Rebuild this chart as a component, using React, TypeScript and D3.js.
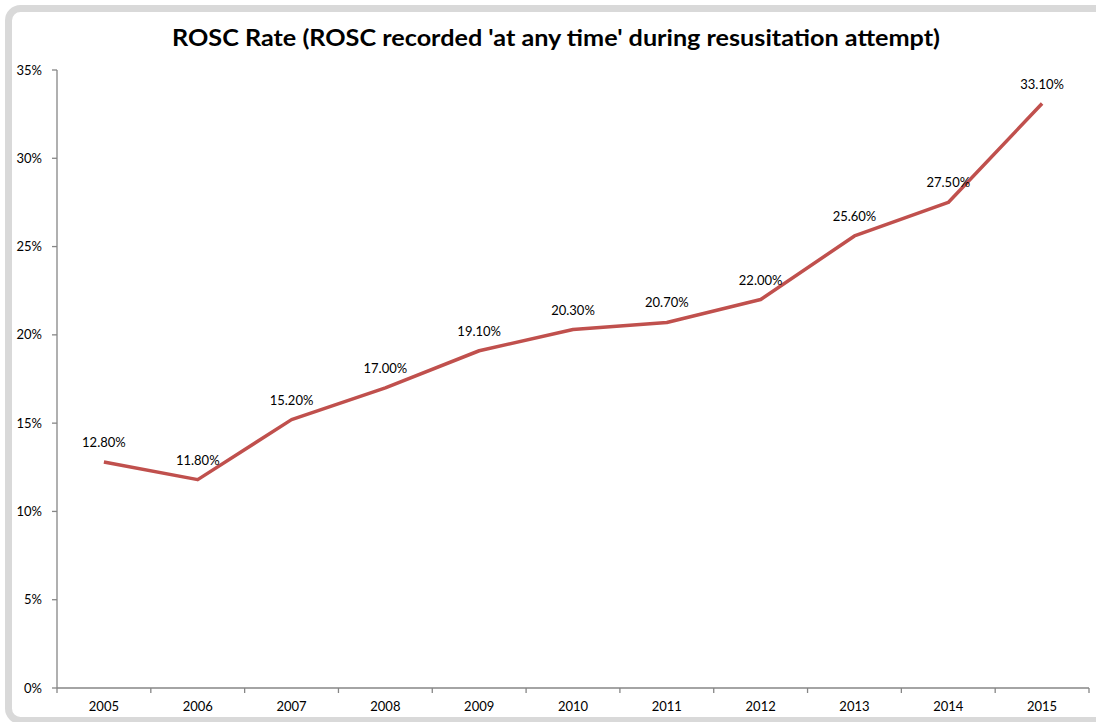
import React, { useEffect } from "react";
import * as d3 from "d3";

const years = ["2005", "2006", "2007", "2008", "2009", "2010", "2011", "2012", "2013", "2014", "2015"];
const roscRate = [12.8, 11.8, 15.2, 17.0, 19.1, 20.3, 20.7, 22.0, 25.6, 27.5, 33.1];
const yTicks = [0, 5, 10, 15, 20, 25, 30, 35];
const title = "ROSC Rate (ROSC recorded 'at any time' during resusitation attempt)";

const W = 1096;
const H = 722;
const left = 57;
const right = 1089;
const top = 70;
const bottom = 688;
const FONT = "Lato, 'Open Sans', sans-serif";

export default function App() {
  useEffect(() => {
    document.body.style.margin = "0";
  }, []);

  const x = d3.scaleBand<string>().domain(years).range([left, right]);
  const y = d3.scaleLinear().domain([0, 35]).range([bottom, top]);
  const cx = (yr: string) => (x(yr) ?? 0) + x.bandwidth() / 2;

  const line = d3
    .line<number>()
    .x((_, i) => cx(years[i]))
    .y((v) => y(v));

  const tickEdges = [...years.map((yr) => x(yr) ?? 0), right];

  return (
    <svg width={W} height={H} style={{ display: "block" }}>
      <rect x={0} y={0} width={W} height={H} fill="#ffffff" />
      <rect
        x={8.5}
        y={8.5}
        width={1200}
        height={712}
        rx={12}
        ry={12}
        fill="#ffffff"
        stroke="#D9D9D9"
        strokeWidth={7}
      />
      <text
        x={556}
        y={46}
        textAnchor="middle"
        fontFamily={FONT}
        fontWeight={700}
        fontSize={23}
        fill="#000"
        textLength={768}
        lengthAdjust="spacingAndGlyphs"
      >
        {title}
      </text>

      {/* y axis */}
      <line x1={left} x2={left} y1={top} y2={bottom} stroke="#868686" strokeWidth={1.3} />
      {yTicks.map((t) => (
        <g key={t}>
          <line x1={left - 5} x2={left} y1={y(t)} y2={y(t)} stroke="#868686" strokeWidth={1.3} />
          <text
            x={42}
            y={y(t) + 4.5}
            textAnchor="end"
            fontFamily={FONT}
            fontSize={13}
            fill="#000"
          >
            {t}%
          </text>
        </g>
      ))}

      {/* x axis */}
      <line x1={left} x2={right} y1={bottom} y2={bottom} stroke="#868686" strokeWidth={1.3} />
      {tickEdges.map((tx, i) => (
        <line key={i} x1={tx} x2={tx} y1={bottom} y2={bottom + 5} stroke="#868686" strokeWidth={1.3} />
      ))}
      {years.map((yr) => (
        <text
          key={yr}
          x={cx(yr)}
          y={711}
          textAnchor="middle"
          fontFamily={FONT}
          fontSize={13}
          fill="#000"
        >
          {yr}
        </text>
      ))}

      <path
        d={line(roscRate) ?? ""}
        fill="none"
        stroke="#C0504D"
        strokeWidth={3.5}
        strokeLinejoin="round"
      />

      {roscRate.map((v, i) => (
        <text
          key={years[i]}
          x={cx(years[i])}
          y={y(v) - 15}
          textAnchor="middle"
          fontFamily={FONT}
          fontSize={13}
          fill="#000"
        >
          {v.toFixed(2)}%
        </text>
      ))}
    </svg>
  );
}
